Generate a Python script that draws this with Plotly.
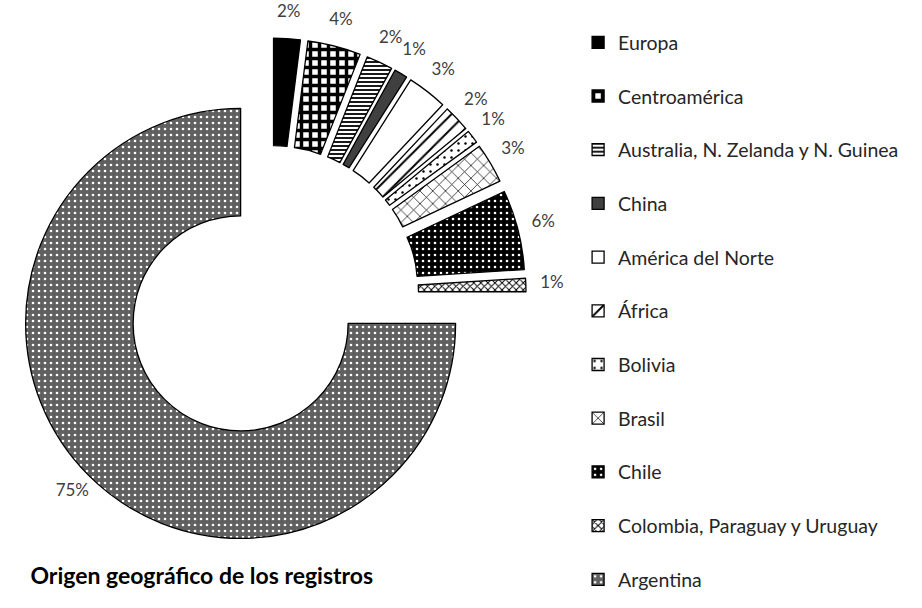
import math
import plotly.graph_objects as go

labels = ["Europa", "Centroamérica", "Australia, N. Zelanda y N. Guinea", "China",
          "América del Norte", "África", "Bolivia", "Brasil", "Chile",
          "Colombia, Paraguay y Uruguay", "Argentina"]
values = [2, 4, 2, 1, 3, 2, 1, 3, 6, 1, 75]
title_text = "Origen geográfico de los registros"

# styling (per slice)
pattern_shape = ["", "+", "-", "", "", "/", ".", "x", ".", "x", "."]
pattern_fg = ["black", "black", "black", "#404040", "white", "black", "black", "black", "white", "black", "white"]
pattern_bg = ["black", "white", "white", "#404040", "white", "white", "white", "white", "black", "white", "#606060"]
pattern_size = [6, 9, 4, 6, 6, 10, 7, 9, 6, 5, 6]
pattern_solid = [0.3, 0.62, 0.45, 0.3, 0.3, 0.2, 0.1, 0.15, 0.15, 0.35, 0.15]
pulls = [0.186] * 10 + [0.2]
LABEL_R = 281          # label distance (px) from the ring centre

W, H = 922, 608
dom_x = [0.0141, 0.5738]
dom_y = [0.0938, 0.9424]
# ring centre in pixels (same formula plotly uses for the pie)
cx_px = W * (dom_x[0] + dom_x[1]) / 2
cy_px = H * (1 - (dom_y[0] + dom_y[1]) / 2)

# derived label angles / texts from the data
total = sum(values)
cum = 0
lab_x, lab_y, pct_texts = [], [], []
for v in values:
    ang = math.radians((cum + v / 2) / total * 360)
    lab_x.append(LABEL_R * math.sin(ang))
    lab_y.append(LABEL_R * math.cos(ang))
    pct_texts.append(f"{round(v / total * 100)}%")
    cum += v

legend_labels = [l + "<br>\u00a0" for l in labels[:-1]] + [labels[-1]]

fig = go.Figure()
fig.add_trace(go.Pie(
    labels=legend_labels,
    values=values,
    sort=False,
    direction="clockwise",
    rotation=0,
    hole=0.5,
    pull=pulls,
    marker=dict(
        colors=pattern_bg,
        line=dict(color="black", width=1.3),
        pattern=dict(shape=pattern_shape, fgcolor=pattern_fg, bgcolor=pattern_bg,
                     size=pattern_size, solidity=pattern_solid, fillmode="replace"),
    ),
    textinfo="none",
    domain=dict(x=dom_x, y=dom_y),
    customdata=labels,
    hovertemplate="%{customdata}: %{percent}<extra></extra>",
))

fig.add_trace(go.Scatter(
    x=lab_x, y=lab_y,
    mode="text",
    text=pct_texts,
    textposition="middle center",
    textfont=dict(family="Lato", size=17, color="#404040"),
    cliponaxis=False,
    showlegend=False,
    hoverinfo="skip",
))

fig.update_layout(
    width=W, height=H,
    margin=dict(l=0, r=0, t=0, b=0, autoexpand=False),
    paper_bgcolor="white",
    plot_bgcolor="rgba(0,0,0,0)",
    font=dict(family="Lato", color="#262626"),
    xaxis=dict(visible=False, range=[-cx_px, W - cx_px], fixedrange=True),
    yaxis=dict(visible=False, range=[cy_px - H, cy_px], fixedrange=True),
    title=dict(text="<b>" + title_text + "</b>", x=0.033, xanchor="left", xref="paper",
               y=0.052, yanchor="middle", yref="container",
               font=dict(family="Lato", size=23, color="black")),
    showlegend=True,
    legend=dict(x=0.627, xanchor="left", y=0.962, yanchor="top", valign="top",
                font=dict(family="Lato", size=19.5, color="#262626"),
                bgcolor="rgba(0,0,0,0)"),
)

fig.write_html("out.html")
